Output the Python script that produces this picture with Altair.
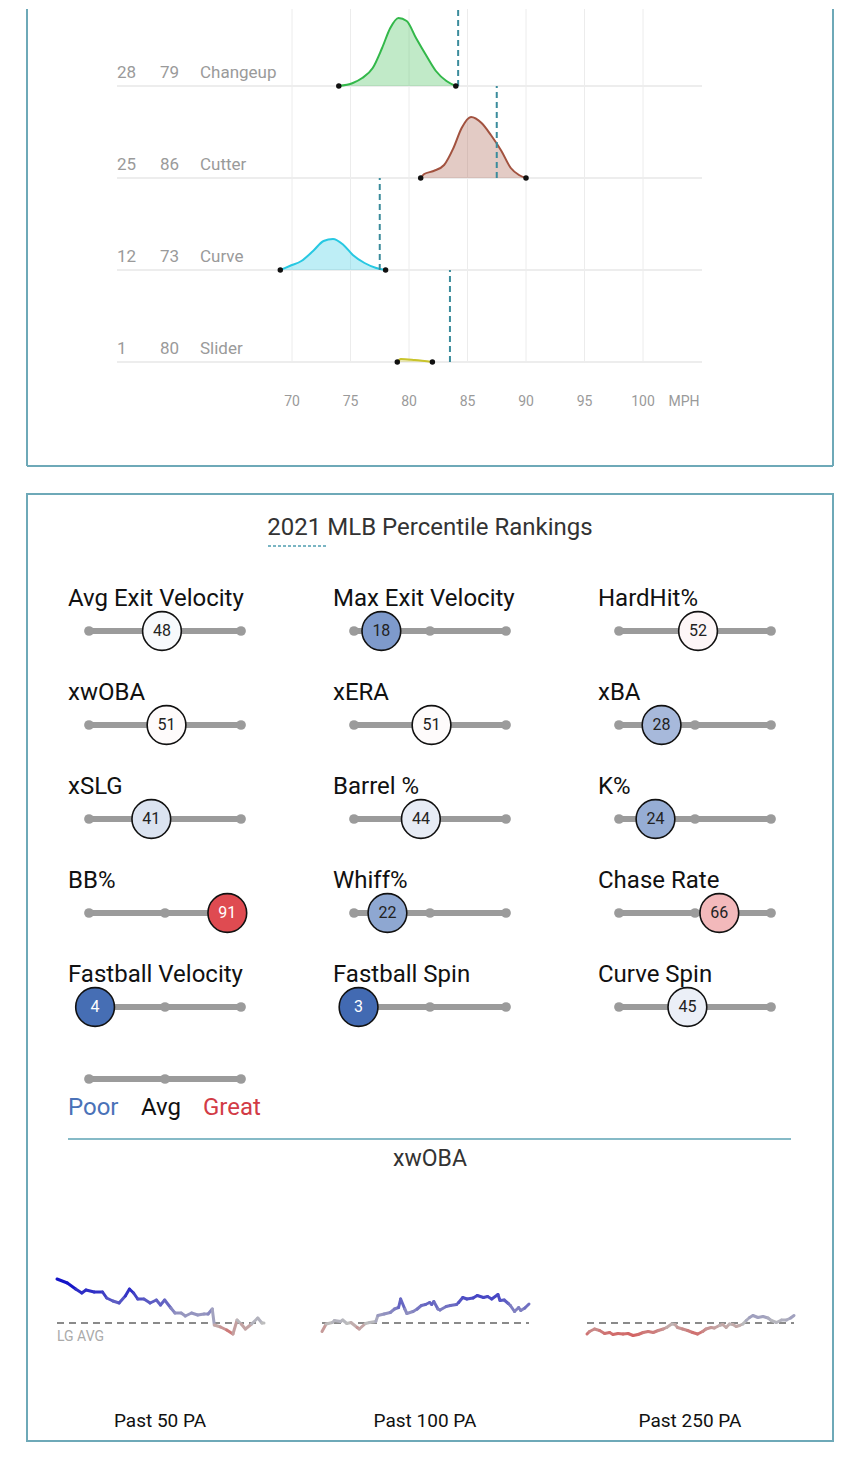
import altair as alt
import pandas as pd

FONT = "Roboto"

# ---------------- pitch velocity distributions ----------------
PITCHES = ["Changeup", "Cutter", "Curve", "Slider"]
USAGE = [28, 25, 12, 1]
AVG_VELO = [79, 86, 73, 80]
LG_VELO = [84.2, 87.5, 77.5, 83.5]
ROW_ORDER = [3, 2, 1, 0]
PITCH_COLORS = ["#33b84a", "#a2523f", "#27c8e2", "#c9c42c"]

CH_MPH = [74.0, 75.2, 76.0, 76.9, 77.7, 78.4, 79.1, 79.8, 80.6, 81.5, 82.3, 83.2, 84.0]
CH_FREQ = [0, 0.3, 0.8, 1.8, 3.8, 5.8, 6.8, 6.5, 4.8, 3.0, 1.5, 0.5, 0]
FC_MPH = [81.0, 81.3, 82.1, 83.0, 83.8, 84.5, 85.3, 86.2, 87.0, 87.9, 88.7, 89.4, 90.0]
FC_FREQ = [0, 0.4, 0.7, 1.3, 3.0, 5.0, 6.1, 5.5, 4.3, 2.7, 1.0, 0.3, 0]
CU_MPH = [69.0, 69.8, 70.8, 71.8, 72.7, 73.5, 74.4, 75.2, 76.2, 77.2, 78.0]
CU_FREQ = [0, 0.4, 0.9, 1.9, 2.9, 3.1, 2.5, 1.5, 0.7, 0.2, 0]
SL_MPH = [79.0, 79.3, 80.5, 82.0]
SL_FREQ = [0, 0.3, 0.2, 0]

MPH_TICKS = [70, 75, 80, 85, 90, 95, 100]

# ---------------- percentile rankings ----------------
TITLE = "2021 MLB Percentile Rankings"
METRICS = ["Avg Exit Velocity", "Max Exit Velocity", "HardHit%",
           "xwOBA", "xERA", "xBA",
           "xSLG", "Barrel %", "K%",
           "BB%", "Whiff%", "Chase Rate",
           "Fastball Velocity", "Fastball Spin", "Curve Spin"]
PCTS = [48, 18, 52, 51, 51, 28, 41, 44, 24, 91, 22, 66, 4, 3, 45]
LEGEND = ["Poor", "Avg", "Great"]

# ---------------- rolling xwOBA ----------------
SPARK_TITLE = "xwOBA"
LG_AVG = 0.310
PANELS = ["Past 50 PA", "Past 100 PA", "Past 250 PA"]
PA_50 = [0, 2.5, 4.5, 6, 7, 9, 11, 12, 13.5, 15, 16.5, 17.5, 18.5, 19.5, 21, 22.5, 24, 25, 26,
         27.5, 28.5, 30, 31, 32.5, 34, 35.5, 36.5, 37.5, 38, 39.5, 41, 42.5, 43.5, 44.5, 45.5,
         47, 48.5, 49.5, 50]
XW_50 = [.398, .390, .378, .370, .376, .372, .372, .360, .354, .350, .364, .378, .370, .358,
         .358, .350, .356, .346, .356, .340, .330, .330, .324, .330, .326, .328, .328, .338,
         .306, .302, .296, .288, .316, .308, .298, .308, .320, .310, .310]
PA_100 = [0, 2, 5, 6, 9, 10, 12, 14, 17, 18, 21, 23, 26, 27, 30, 33, 35, 37, 38, 40, 41, 44,
          46, 48, 50, 52, 53, 54, 56, 57, 60, 62, 65, 66, 68, 70, 73, 75, 78, 80, 82, 85, 86,
          88, 90, 91, 93, 95, 96, 98, 100]
XW_100 = [.293, .308, .311, .315, .313, .316, .309, .311, .301, .298, .309, .311, .313, .325,
          .328, .331, .338, .341, .358, .338, .329, .333, .338, .345, .347, .351, .347, .353,
          .338, .336, .343, .345, .347, .351, .361, .358, .360, .365, .361, .363, .358, .367,
          .355, .356, .349, .345, .333, .341, .335, .340, .348]
PA_250 = [2, 5, 11, 17, 23, 29, 33, 39, 45, 51, 57, 63, 69, 75, 81, 87, 93, 97, 103, 107, 110,
          116, 122, 128, 134, 140, 144, 150, 154, 160, 164, 168, 172, 176, 180, 184, 188, 192,
          196, 200, 206, 212, 218, 222, 228, 234, 240, 245, 249]
XW_250 = [.288, .293, .298, .295, .289, .291, .287, .289, .288, .289, .285, .287, .291, .293,
          .291, .295, .298, .301, .308, .307, .301, .298, .295, .291, .288, .293, .298, .301,
          .300, .305, .307, .301, .308, .307, .303, .305, .308, .315, .321, .325, .321, .323,
          .320, .315, .311, .316, .316, .320, .325]

# ---------------- styles ----------------
BORDER = "#6ea9b8"
TEAL_DASH = "#3b8c9c"
GRAY_TXT = "#9a9a9a"
TRACK = "#9b9b9b"
ROW_GAP = 9.2

one = pd.DataFrame({"k": [0]})

# ====================== section 1: velocity distributions ======================
pitch_df = pd.DataFrame({"pitch": PITCHES, "usage": USAGE, "velo": AVG_VELO,
                         "lg": LG_VELO, "order": ROW_ORDER})
rows = []
for p, ms, fs in [("Changeup", CH_MPH, CH_FREQ), ("Cutter", FC_MPH, FC_FREQ),
                  ("Curve", CU_MPH, CU_FREQ), ("Slider", SL_MPH, SL_FREQ)]:
    for m, f in zip(ms, fs):
        rows.append({"pitch": p, "mph": m, "freq": f})
curves = pd.DataFrame(rows).merge(pitch_df[["pitch", "order"]], on="pitch")
ends = pd.concat([curves.loc[curves.groupby("pitch")["mph"].idxmin()],
                  curves.loc[curves.groupby("pitch")["mph"].idxmax()]])
ticks_df = pd.DataFrame({"tick": MPH_TICKS})

XS = alt.Scale(domain=[70, 100], range=[284, 635], zero=False, nice=False)
YS = alt.Scale(domain=[0, 35.3], range=[353, 0], zero=False, nice=False, clamp=True)
COL = alt.Scale(domain=PITCHES, range=PITCH_COLORS)
base_expr = f"datum.order * {ROW_GAP}"

grid = alt.Chart(ticks_df).mark_rule(color="#ececec", strokeWidth=1).encode(
    x=alt.X("tick:Q", scale=XS, axis=None), y=alt.value(0), y2=alt.value(354))
baselines = alt.Chart(pitch_df).transform_calculate(base=base_expr).mark_rule(
    color="#ededed", strokeWidth=2).encode(
    x=alt.value(109), x2=alt.value(694), y=alt.Y("base:Q", scale=YS, axis=None))
cbase = alt.Chart(curves).transform_calculate(
    base=base_expr, top=f"{base_expr} + datum.freq")
area = cbase.mark_area(interpolate="monotone", fillOpacity=0.3).encode(
    x=alt.X("mph:Q", scale=XS, axis=None),
    y=alt.Y("top:Q", scale=YS, axis=None, stack=False), y2="base:Q",
    color=alt.Color("pitch:N", scale=COL, legend=None))
line = cbase.mark_line(interpolate="monotone", strokeWidth=2).encode(
    x=alt.X("mph:Q", scale=XS, axis=None),
    y=alt.Y("top:Q", scale=YS, axis=None),
    color=alt.Color("pitch:N", scale=COL, legend=None))
dash = alt.Chart(pitch_df).transform_calculate(
    base=base_expr, top=f"{base_expr} + {ROW_GAP}").mark_rule(
    strokeDash=[6, 4], strokeWidth=2, color=TEAL_DASH).encode(
    x=alt.X("lg:Q", scale=XS, axis=None), y=alt.Y("base:Q", scale=YS, axis=None), y2="top:Q")
dots = alt.Chart(ends).transform_calculate(base=base_expr).mark_circle(
    size=30, color="#111", opacity=1).encode(
    x=alt.X("mph:Q", scale=XS, axis=None), y=alt.Y("base:Q", scale=YS, axis=None))
lab_base = alt.Chart(pitch_df).transform_calculate(base=base_expr)
lab_kw = dict(fontSize=17, color=GRAY_TXT, align="left", baseline="middle", dy=-13)
lab1 = lab_base.mark_text(**lab_kw).encode(
    x=alt.value(109), y=alt.Y("base:Q", scale=YS, axis=None), text="usage:Q")
lab2 = lab_base.mark_text(**lab_kw).encode(
    x=alt.value(152), y=alt.Y("base:Q", scale=YS, axis=None), text="velo:Q")
lab3 = lab_base.mark_text(**lab_kw).encode(
    x=alt.value(192), y=alt.Y("base:Q", scale=YS, axis=None), text="pitch:N")
tick_lab = alt.Chart(ticks_df).mark_text(fontSize=14, color=GRAY_TXT, baseline="middle").encode(
    x=alt.X("tick:Q", scale=XS, axis=None), y=alt.value(393), text="tick:Q")
mph_lab = alt.Chart(one).mark_text(text="MPH", fontSize=14, color=GRAY_TXT, baseline="middle").encode(
    x=alt.value(676), y=alt.value(393))
b_left = alt.Chart(one).mark_rule(color=BORDER, strokeWidth=2).encode(
    x=alt.value(19), y=alt.value(0), y2=alt.value(457))
b_right = alt.Chart(one).mark_rule(color=BORDER, strokeWidth=2).encode(
    x=alt.value(825), y=alt.value(0), y2=alt.value(457))
b_bottom = alt.Chart(one).mark_rule(color=BORDER, strokeWidth=2).encode(
    x=alt.value(19), x2=alt.value(825), y=alt.value(457))

S1 = alt.layer(grid, baselines, area, line, dash, dots, lab1, lab2, lab3, tick_lab, mph_lab,
               b_left, b_right, b_bottom).properties(width=834, height=485)

# ====================== section 2: title + box ======================
box2 = alt.Chart(one).mark_rect(fillOpacity=0, stroke=BORDER, strokeWidth=2).encode(
    x=alt.value(19), x2=alt.value(825), y=alt.value(0), y2=alt.value(947))
title = alt.Chart(one).mark_text(text=TITLE, fontSize=24, color="#333333",
                                 align="center", baseline="middle").encode(
    x=alt.value(422), y=alt.value(34))
underline = alt.Chart(one).mark_rule(strokeDash=[3, 2], color="#4f9db0", strokeWidth=1.5).encode(
    x=alt.value(260), x2=alt.value(320), y=alt.value(52))
S2 = alt.layer(box2, title, underline).properties(width=834, height=85)

# ====================== section 3: percentile sliders ======================
pct_df = pd.DataFrame({"metric": METRICS, "pct": PCTS})
pct_df["row"] = [i // 3 for i in range(len(METRICS))]
pct_df["col"] = [i % 3 for i in range(len(METRICS))]

FILL = alt.Scale(domain=[0, 50, 100], range=["#3661ad", "#ffffff", "#d8232b"], interpolate="rgb")
YR = alt.Scale(domain=[0, 4], range=[52, 428], zero=False, nice=False)
COL_W = 265

slider_layers = []
for c in range(3):
    d = pct_df[pct_df["col"] == c]
    x0 = 81 + COL_W * c
    x1 = 233 + COL_W * c
    PS = alt.Scale(domain=[0, 100], range=[x0, x1], zero=False, nice=False)
    b = alt.Chart(d).transform_calculate(
        tc="datum.pct <= 12 || datum.pct >= 85 ? 'white' : '#222222'")
    yy = alt.Y("row:Q", scale=YR, axis=None)
    slider_layers.append(b.mark_rule(color=TRACK, strokeWidth=6).encode(
        x=alt.value(x0), x2=alt.value(x1), y=yy))
    for v in (x0, (x0 + x1) / 2, x1):
        slider_layers.append(b.mark_circle(size=95, color=TRACK, opacity=1).encode(
            x=alt.value(v), y=yy))
    slider_layers.append(b.mark_circle(size=1500, stroke="#111111", strokeWidth=1.6,
                                       opacity=1).encode(
        x=alt.X("pct:Q", scale=PS, axis=None), y=yy,
        fill=alt.Fill("pct:Q", scale=FILL, legend=None)))
    slider_layers.append(b.mark_text(fontSize=16, align="center", baseline="middle").encode(
        x=alt.X("pct:Q", scale=PS, axis=None), y=yy, text="pct:Q",
        color=alt.Color("tc:N", scale=None)))
    slider_layers.append(b.mark_text(fontSize=24, align="left", baseline="middle",
                                     color="#111111", dy=-32).encode(
        x=alt.value(60 + COL_W * c), y=yy, text="metric:N"))

S3 = alt.layer(*slider_layers).resolve_scale(x="independent").properties(width=834, height=470)

# ====================== section 4a: legend + separator ======================
leg_track = alt.Chart(one).mark_rule(color=TRACK, strokeWidth=6).encode(
    x=alt.value(81), x2=alt.value(233), y=alt.value(30))
leg_dots = [alt.Chart(one).mark_circle(size=95, color=TRACK, opacity=1).encode(
    x=alt.value(v), y=alt.value(30)) for v in (81, 157, 233)]
leg_cols = ["#4a72b8", "#111111", "#d23b46"]
leg_x = [60, 133, 195]
leg_txt = [alt.Chart(one).mark_text(text=t, fontSize=24, color=c, align="left",
                                    baseline="middle").encode(x=alt.value(xx), y=alt.value(59))
           for t, c, xx in zip(LEGEND, leg_cols, leg_x)]
sep = alt.Chart(one).mark_rule(color="#5ea3b5", strokeWidth=1.5).encode(
    x=alt.value(60), x2=alt.value(783), y=alt.value(90))
sp_title = alt.Chart(one).mark_text(text=SPARK_TITLE, fontSize=23, color="#333333",
                                    align="center", baseline="middle").encode(
    x=alt.value(422), y=alt.value(110))
S4a = alt.layer(leg_track, *leg_dots, *leg_txt, sep, sp_title).properties(width=834, height=199)

# ====================== section 4b: rolling xwOBA sparklines ======================
YSP = alt.Scale(domain=[0.26, 0.46], zero=False, nice=False)
CSP = alt.Scale(domain=[0.285, 0.31, 0.385], range=["#d4605f", "#bdbdbd", "#1414c8"],
                interpolate="rgb", clamp=True)


def spark(panel, pas, vals, first):
    seg = pd.DataFrame({"pa": pas[:-1], "pa2": pas[1:], "v": vals[:-1], "v2": vals[1:]})
    seg["vm"] = (seg["v"] + seg["v2"]) / 2
    xs = alt.Scale(domain=[min(pas), max(pas)], range=[49, 256], zero=False, nice=False)
    lg = pd.DataFrame({"lg": [LG_AVG], "panel": [panel]})
    avg_rule = alt.Chart(lg).mark_rule(strokeDash=[7, 5], strokeWidth=2, color="#8a8a8a").encode(
        x=alt.value(49), x2=alt.value(256), y=alt.Y("lg:Q", scale=YSP, axis=None))
    segs = alt.Chart(seg).mark_rule(strokeWidth=3, strokeCap="round").encode(
        x=alt.X("pa:Q", scale=xs, axis=None), x2="pa2:Q",
        y=alt.Y("v:Q", scale=YSP, axis=None), y2="v2:Q",
        color=alt.Color("vm:Q", scale=CSP, legend=None))
    cap = alt.Chart(lg).mark_text(fontSize=19, color="#111111", align="center",
                                  baseline="middle").encode(
        x=alt.value(152), y=alt.value(173), text="panel:N")
    layers = [avg_rule, segs, cap]
    if first:
        layers.append(alt.Chart(lg).mark_text(
            text="LG AVG", fontSize=14, color="#aaaaaa", align="left", baseline="middle").encode(
            x=alt.value(49), y=alt.value(89)))
    return alt.layer(*layers).properties(width=265, height=100)


S4b = alt.hconcat(
    spark(PANELS[0], PA_50, XW_50, True),
    spark(PANELS[1], PA_100, XW_100, False),
    spark(PANELS[2], PA_250, XW_250, False),
    spacing=0, bounds="flush")

chart = alt.vconcat(S1, S2, S3, S4a, S4b, spacing=0, bounds="flush").properties(
    padding=0, background="white"
).configure(font=FONT).configure_view(strokeWidth=0)

chart.save("out.html", embed_options={"renderer": "svg", "actions": False})
